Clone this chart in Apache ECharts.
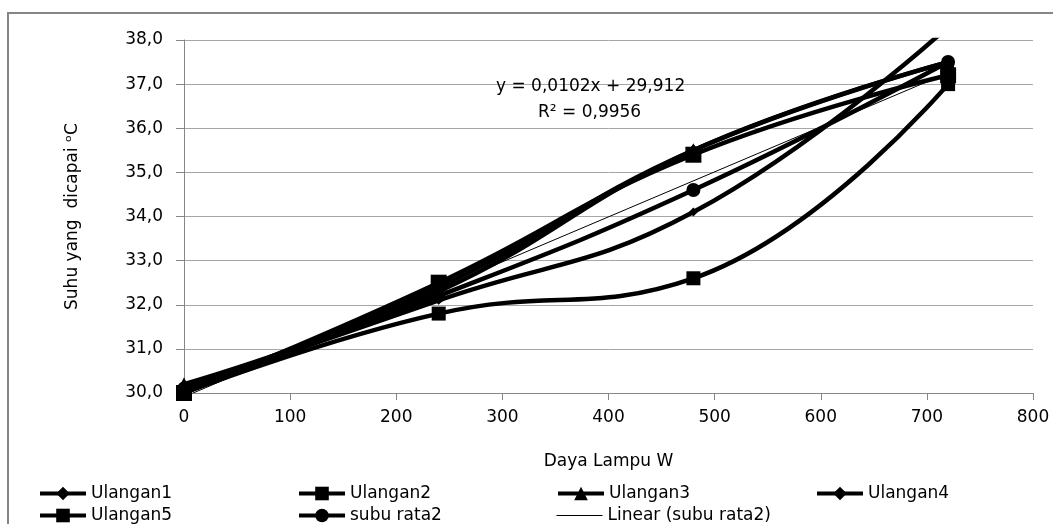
<!DOCTYPE html>
<html><head><meta charset="utf-8">
<script src="https://cdn.jsdelivr.net/npm/echarts@6/dist/echarts.min.js"></script>
<style>html,body{margin:0;padding:0;background:#fff}#c{width:1053px;height:524px}</style>
</head><body><div id="c"></div>
<script>
var xValues = [0, 240, 480, 720];
var ulangan1 = [30.1, 32.4, 35.5, 37.5];
var ulangan2 = [30.0, 31.8, 32.6, 37.0];
var ulangan3 = [30.2, 32.3, 35.5, 37.5];
var ulangan4 = [30.1, 32.1, 34.1, 38.3];
var ulangan5 = [30.0, 32.5, 35.4, 37.2];
var subuRata2 = [30.1, 32.2, 34.6, 37.5];
var trendX = [0, 720];
var trendY = [29.912, 37.256];
var yTicks = [30, 31, 32, 33, 34, 35, 36, 37, 38];

function pairs(xs, ys){ return xs.map(function(x,i){ return [x, ys[i]]; }); }

var FONT = 'DejaVu Sans';
var seriesDefs = [
  {name:'Ulangan1', data:ulangan1, symbol:'diamond', size:12},
  {name:'Ulangan2', data:ulangan2, symbol:'rect', size:14},
  {name:'Ulangan3', data:ulangan3, symbol:'triangle', size:14},
  {name:'Ulangan4', data:ulangan4, symbol:'diamond', size:9},
  {name:'Ulangan5', data:ulangan5, symbol:'rect', size:16},
  {name:'subu rata2', data:subuRata2, symbol:'circle', size:14}
];
var series = seriesDefs.map(function(d){
  return {
    name:d.name, type:'line', smooth:0.45, data:pairs(xValues, d.data),
    symbol:d.symbol, symbolSize:d.size, showAllSymbol:true, clip:true,
    lineStyle:{color:'#000', width:4.5}, itemStyle:{color:'#000'},
    emphasis:{disabled:true}, animation:false
  };
});
series.push({
  name:'Linear (subu rata2)', type:'line', data:pairs(trendX, trendY),
  symbol:'none', lineStyle:{color:'#000', width:1}, itemStyle:{color:'#000'},
  animation:false, emphasis:{disabled:true}
});

var legendPos = [[38,485],[297,485],[556,485],[815,485],[38,507],[297,507],[556,507]];
var names = ['Ulangan1','Ulangan2','Ulangan3','Ulangan4','Ulangan5','subu rata2','Linear (subu rata2)'];
var legends = names.map(function(n,i){
  var isTrend = (i === 6);
  return {data:[n], left:legendPos[i][0], top:legendPos[i][1], padding:0,
    itemWidth:46, itemHeight:17, itemGap:0,
    lineStyle:{color:'#000', width:isTrend ? 1 : 4},
    itemStyle:isTrend ? {color:'rgba(0,0,0,0)', borderWidth:0} : {color:'#000'},
    textStyle:{fontFamily:FONT, fontSize:17, color:'#000'}, selectedMode:false};
});

var chart = echarts.init(document.getElementById('c'));
chart.setOption({
  animation:false,
  backgroundColor:'#fff',
  grid:{left:184, right:20, top:40, bottom:131},
  legend:legends,
  xAxis:{
    type:'value', min:0, max:800, interval:100,
    name:'Daya Lampu W', nameLocation:'middle', nameGap:60,
    nameTextStyle:{fontFamily:FONT, fontSize:17, color:'#000'},
    axisLine:{show:true, lineStyle:{color:'#868686', width:1}},
    axisTick:{show:true, length:7, lineStyle:{color:'#868686'}},
    axisLabel:{fontFamily:FONT, fontSize:17, color:'#000', margin:16},
    splitLine:{show:false}
  },
  yAxis:{
    type:'value', min:yTicks[0], max:yTicks[yTicks.length-1], interval:1,
    name:'Suhu yang  dicapai ᵒC', nameLocation:'middle', nameGap:103, nameRotate:90,
    nameTextStyle:{fontFamily:FONT, fontSize:17, color:'#000'},
    axisLine:{show:true, lineStyle:{color:'#868686', width:1}},
    axisTick:{show:true, length:8, lineStyle:{color:'#868686'}},
    axisLabel:{fontFamily:FONT, fontSize:17, color:'#000', margin:21,
      formatter:function(v){ return v.toFixed(1).replace('.', ','); }},
    splitLine:{show:true, lineStyle:{color:'#a6a6a6', width:1}}
  },
  graphic:[
    {type:'rect', shape:{x:8, y:13, width:1100, height:600}, style:{fill:'none', stroke:'#868686', lineWidth:2}, silent:true, z:-1},
    {type:'text', left:496, top:78, style:{text:'y = 0,0102x + 29,912', font:'17px "DejaVu Sans"', fill:'#000'}, z:10},
    {type:'text', left:538, top:104, style:{text:'R² = 0,9956', font:'17px "DejaVu Sans"', fill:'#000'}, z:10}
  ],
  series:series
});
</script></body></html>
